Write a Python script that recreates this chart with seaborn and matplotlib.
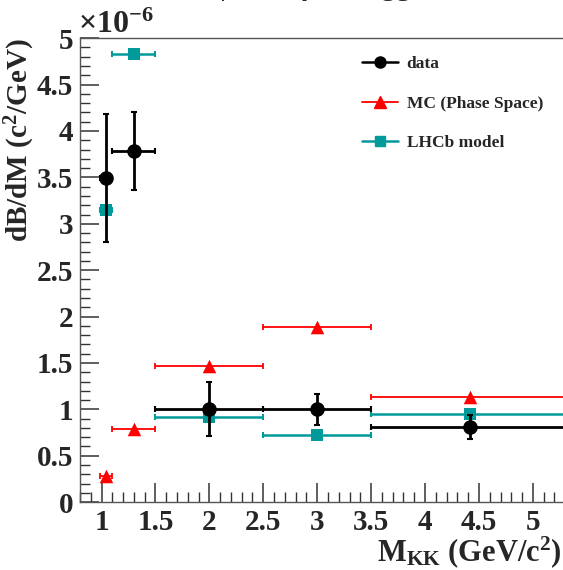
import numpy as np
import pandas as pd
import matplotlib
matplotlib.use("Agg")
import matplotlib.pyplot as plt
import seaborn as sns
from matplotlib.lines import Line2D
from matplotlib.ticker import MultipleLocator, FuncFormatter

sns.set_theme(style="ticks")
plt.rcParams.update({
    "font.family": ["Liberation Serif", "DejaVu Serif"],
    "font.weight": "bold",
    "mathtext.fontset": "custom",
    "mathtext.rm": "Liberation Serif:bold",
    "mathtext.it": "Liberation Serif:bold:italic",
    "mathtext.bf": "Liberation Serif:bold",
})

# bin edges in M_KK (GeV/c^2)
bin_lo = [0.99, 1.1, 1.5, 2.5, 3.5]
bin_hi = [1.1, 1.5, 2.5, 3.5, 5.34]

# dB/dM in units of 1e-6 (c^2/GeV)
data_y = [3.49, 3.78, 1.00, 1.00, 0.81]
data_lo = [2.80, 3.36, 0.71, 0.83, 0.68]
data_hi = [4.18, 4.20, 1.29, 1.17, 0.94]
mc_y = [0.28, 0.79, 1.47, 1.89, 1.13]
lhcb_y = [3.15, 4.83, 0.92, 0.72, 0.95]

lo = np.array(bin_lo)
hi = np.array(bin_hi)
centers = (lo + hi) / 2
xerr = [centers - lo, hi - centers]

df = pd.DataFrame({"M": centers, "data": data_y, "mc": mc_y, "lhcb": lhcb_y})

teal = "#009a9a"
red = "#ff0000"

fig = plt.figure(figsize=(5.63, 5.70), dpi=100)
ax = fig.add_axes([0.142, 0.119, 0.862, 0.814])

# MC (phase space)
ax.errorbar(centers, mc_y, xerr=xerr, fmt="none", ecolor=red, elinewidth=1.3,
            capsize=2, capthick=1.3, zorder=2)
sns.scatterplot(data=df, x="M", y="mc", marker="^", s=95, color=red,
                edgecolor=red, linewidth=0, ax=ax, zorder=3)

# LHCb model
ax.errorbar(centers, lhcb_y, xerr=xerr, fmt="none", ecolor=teal, elinewidth=1.8,
            capsize=2, capthick=1.5, zorder=2)
sns.scatterplot(data=df, x="M", y="lhcb", marker="s", s=85, color=teal,
                edgecolor=teal, linewidth=0, ax=ax, zorder=3)

# data
yerr = [np.array(data_y) - np.array(data_lo), np.array(data_hi) - np.array(data_y)]
ax.errorbar(centers, data_y, xerr=xerr, yerr=yerr, fmt="none", ecolor="black",
            elinewidth=2, capsize=2, capthick=1.5, zorder=4)
sns.scatterplot(data=df, x="M", y="data", marker="o", s=110, color="black",
                edgecolor="black", linewidth=0, ax=ax, zorder=5)

ax.set_xlim(0.8, 5.30)
ax.set_ylim(0, 5)
ax.xaxis.set_major_locator(MultipleLocator(0.5))
ax.xaxis.set_minor_locator(MultipleLocator(0.1))
ax.yaxis.set_major_locator(MultipleLocator(0.5))
ax.yaxis.set_minor_locator(MultipleLocator(0.1))
fmt = FuncFormatter(lambda v, p: "%g" % v)
ax.xaxis.set_major_formatter(fmt)
ax.yaxis.set_major_formatter(fmt)
ax.tick_params(which="both", direction="in", top=False, right=False, color="#333333")
ax.tick_params(which="major", length=14, width=1.1, labelsize=21, pad=5)
ax.tick_params(which="minor", length=7, width=1.0)
for lab in ax.get_xticklabels() + ax.get_yticklabels():
    lab.set_fontweight("bold")
for sp in ax.spines.values():
    sp.set_color("#555555")
    sp.set_linewidth(1.0)

ax.set_xlabel("")
ax.set_ylabel("")
fig.text(0.998, 0.016, r"M$_{\mathrm{KK}}$ (GeV/c$^{2}$)", ha="right", va="baseline",
         fontsize=22, fontweight="bold")
fig.text(0.036, 0.932, r"dB/dM (c$^{2}$/GeV)", ha="center", va="top", rotation=90,
         fontsize=21, fontweight="bold")
fig.text(0.138, 0.942, r"$\times$10$^{-6}$", ha="left", va="baseline",
         fontsize=23, fontweight="bold")
# title sits above the canvas; only its descenders are visible
fig.text(0.50, 1.008, r"B$\rightarrow$ $\phi$ K K $\gamma$ M$_{\mathrm{KK}}$gg", ha="center",
         va="baseline", fontsize=21, fontweight="bold")

handles = [
    Line2D([], [], color="black", lw=1.8, marker="o", markersize=8),
    Line2D([], [], color=red, lw=1.3, marker="^", markersize=8),
    Line2D([], [], color=teal, lw=1.8, marker="s", markersize=7),
]
leg = ax.legend(handles, ["data", "MC (Phase Space)", "LHCb model"],
                loc="upper left", bbox_to_anchor=(0.548, 0.995), frameon=False,
                prop={"family": "Liberation Serif", "weight": "bold", "size": 12.5},
                handlelength=2.1, labelspacing=1.35, handletextpad=0.5)

fig.savefig("out.png", dpi=100)
